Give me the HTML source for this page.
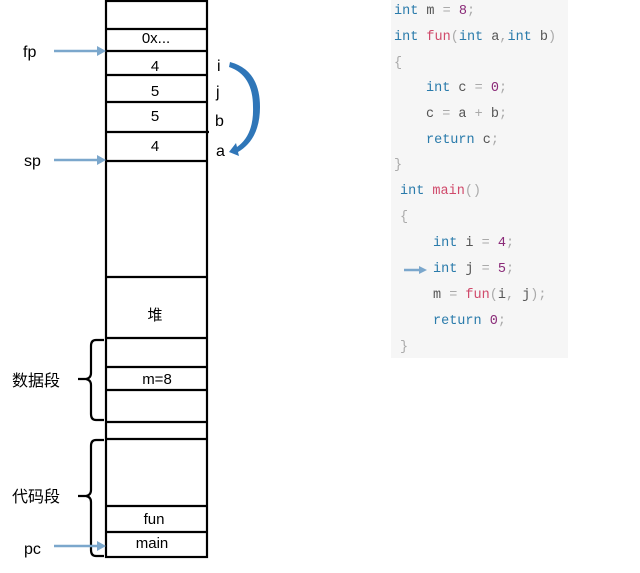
<!DOCTYPE html>
<html><head><meta charset="utf-8"><style>
body{margin:0;background:#fff;width:640px;height:573px;overflow:hidden;position:relative}
svg{position:absolute;left:0;top:0}
.code{position:absolute;left:391px;top:0;width:177px;height:358px;background:#f6f6f6}
.l{position:absolute;font-family:"Liberation Mono",monospace;font-size:13.5px;color:#555;white-space:pre;line-height:16px}
.k{color:#2a7bab}.f{color:#d04a6b}.n{color:#8a2a78}.p{color:#aaa}
</style></head><body>
<div class="code"></div>
<div class="l" style="left:394px;top:4px"><span class="k">int</span> m <span class="p">=</span> <span class="n">8</span><span class="p">;</span></div>
<div class="l" style="left:394px;top:30px"><span class="k">int</span> <span class="f">fun</span><span class="p">(</span><span class="k">int</span> a<span class="p">,</span><span class="k">int</span> b<span class="p">)</span></div>
<div class="l" style="left:394px;top:56px"><span class="p">{</span></div>
<div class="l" style="left:426px;top:81px"><span class="k">int</span> c <span class="p">=</span> <span class="n">0</span><span class="p">;</span></div>
<div class="l" style="left:426px;top:107px">c <span class="p">=</span> a <span class="p">+</span> b<span class="p">;</span></div>
<div class="l" style="left:426px;top:133px"><span class="k">return</span> c<span class="p">;</span></div>
<div class="l" style="left:394px;top:158px"><span class="p">}</span></div>
<div class="l" style="left:400px;top:184px"><span class="k">int</span> <span class="f">main</span><span class="p">()</span></div>
<div class="l" style="left:400px;top:210px"><span class="p">{</span></div>
<div class="l" style="left:433px;top:236px"><span class="k">int</span> i <span class="p">=</span> <span class="n">4</span><span class="p">;</span></div>
<div class="l" style="left:433px;top:262px"><span class="k">int</span> j <span class="p">=</span> <span class="n">5</span><span class="p">;</span></div>
<div class="l" style="left:433px;top:288px">m <span class="p">=</span> <span class="f">fun</span><span class="p">(</span>i<span class="p">,</span> j<span class="p">);</span></div>
<div class="l" style="left:433px;top:314px"><span class="k">return</span> <span class="n">0</span><span class="p">;</span></div>
<div class="l" style="left:400px;top:340px"><span class="p">}</span></div>
<svg width="640" height="573" font-family="Liberation Sans, Noto Sans CJK SC, sans-serif">
<g stroke="#000" stroke-width="2.2" fill="none">
<rect x="106" y="1" width="101" height="556"/>
<path d="M106 29H207M106 51H207M106 75H207M106 102H207M106 132H209M106 161H207M106 277H207M106 338H207M106 367H207M106 390H207M106 422H207M106 439H207M106 506H207M106 532H207"/>
<path d="M104 340h-8q-5 0-5 6v27q0 5-5 6h-8M104 420h-8q-5 0-5-6v-29q0-5-5-6"/>
<path d="M104 440h-8q-5 0-5 6v44q0 5-5 6h-8M104 556h-8q-5 0-5-6v-48q0-5-5-6"/>
</g>
<g fill="#000" font-size="15" text-anchor="middle">
<text x="156" y="43">0x...</text>
<text x="155" y="71">4</text>
<text x="155" y="96">5</text>
<text x="155" y="121">5</text>
<text x="155" y="151">4</text>
<text x="155" y="320">堆</text>
<text x="157" y="384">m=8</text>
<text x="154" y="524">fun</text>
<text x="152" y="548">main</text>
</g>
<g fill="#000" font-size="16">
<text x="23" y="57">fp</text>
<text x="24" y="166">sp</text>
<text x="24" y="554">pc</text>
<text x="12" y="386">数据段</text>
<text x="12" y="502">代码段</text>
<text x="217" y="71">i</text>
<text x="216" y="97">j</text>
<text x="215" y="126">b</text>
<text x="216" y="156">a</text>
</g>
<g stroke="#7ba7cc" stroke-width="2.5">
<path d="M54 51H98M54 160H98M54 546H98M404 270H420"/>
</g>
<g fill="#7ba7cc">
<path d="M106 51l-9-5v10zM106 160l-9-5v10zM106 546l-9-5v10zM427 270l-8-4v8z"/>
</g>
<path d="M230 62q30 8 30 45q0 32-22 45l1 4-10-4 7-9 1 4q17-12 16-40q0-32-24-40z" fill="#2f76b8"/>
</svg>
</body></html>
